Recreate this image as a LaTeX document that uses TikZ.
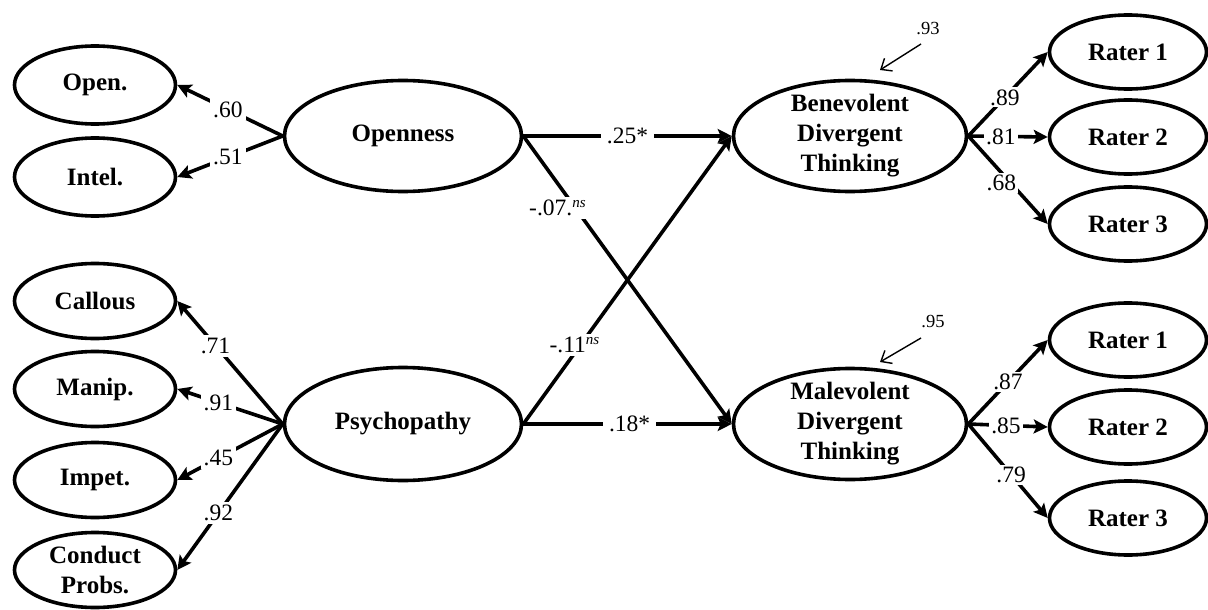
\documentclass[tikz,border=0pt]{standalone}
\usepackage{fontspec}
\setmainfont{Liberation Serif}
\usetikzlibrary{shapes.geometric,arrows.meta,calc}
\newcommand\nodefnt{\fontsize{25}{30}\selectfont\bfseries}
\newcommand\lblfnt{\fontsize{23.5}{26}\selectfont}
\newcommand\resfnt{\fontsize{18.5}{20}\selectfont}
\newcommand\nsup{\raisebox{8pt}{\fontsize{15}{15}\selectfont\itshape ns}}
\begin{document}
\begin{tikzpicture}[x=1pt,y=-1pt,
  ell/.style={draw, line width=3.6pt, ellipse, inner sep=-8pt, font=\nodefnt, align=center},
  ind/.style={ell, minimum width=161pt, minimum height=75pt},
  lat/.style={ell, minimum width=237pt, minimum height=111pt},
  rat/.style={ell, minimum width=157pt, minimum height=74pt},
  conn/.style={line width=3.6pt, -{Stealth[length=14pt,width=14pt,inset=3pt]}},
  lbl/.style={fill=white, inner sep=3pt, font=\lblfnt},
  resid/.style={line width=1.4pt, -{Straight Barb[length=9pt,width=15pt]}},
  reslbl/.style={inner sep=0pt, font=\resfnt}
]
\useasboundingbox (0,0) rectangle (1208,610);

% indicators (left)
\node[ind, minimum height=78pt] (open) at (95,85) {Open.};
\node[ind, minimum height=78pt] (intel) at (95,177) {Intel.};
\node[ind] (callous) at (95,301) {Callous};
\node[ind] (manip) at (95,389) {Manip.};
\node[ind] (impet) at (95,480) {Impet.};
\node[ind] (conduct) at (95,570) {Conduct\\Probs.};

% latent predictors
\node[lat] (opn) at (403,136) {Openness};
\node[lat, minimum height=113pt] (psy) at (403,424) {Psychopathy};

% outcomes
\node[lat, minimum width=233pt] (ben) at (850,136) {Benevolent\\Divergent\\Thinking};
\node[lat, minimum width=233pt] (mal) at (850,424) {Malevolent\\Divergent\\Thinking};

% raters
\node[rat] (b1) at (1128,52) {Rater 1};
\node[rat] (b2) at (1128,137) {Rater 2};
\node[rat] (b3) at (1128,224) {Rater 3};
\node[rat] (m1) at (1128,340) {Rater 1};
\node[rat] (m2) at (1128,427) {Rater 2};
\node[rat] (m3) at (1128,518) {Rater 3};

% loadings left
\draw[conn] (opn.west) -- node[lbl,pos=0.52]{.60} (open.east);
\draw[conn] (opn.west) -- node[lbl,pos=0.52]{.51} (intel.east);
\draw[conn] (psy.west) -- node[lbl,pos=0.6,xshift=-4pt,yshift=4pt]{.71} (callous.east);
\draw[conn] (psy.west) -- node[lbl,pos=0.61]{.91} (manip.east);
\draw[conn] (psy.west) -- node[lbl,pos=0.61]{.45} (impet.east);
\draw[conn] (psy.west) -- node[lbl,pos=0.61]{.92} (conduct.east);

% structural paths
\draw[conn] (opn.east) -- node[lbl,pos=0.5,inner xsep=6pt]{.25*} (ben.west);
\draw[conn] (opn.east) -- node[lbl,pos=0.25,xshift=-18pt]{-.07.\nsup} (mal.west);
\draw[conn] (psy.east) -- node[lbl,pos=0.274,xshift=-6pt]{-.11\nsup} (ben.west);
\draw[conn] (psy.east) -- node[lbl,pos=0.51,inner xsep=6pt]{.18*} (mal.west);

% loadings right
\draw[conn] (ben.east) -- node[lbl,pos=0.46,inner sep=2pt]{.89} (b1.west);
\draw[conn] (ben.east) -- node[lbl,pos=0.41,inner sep=2pt]{.81} (b2.west);
\draw[conn] (ben.east) -- node[lbl,pos=0.53,xshift=-9pt,inner sep=2pt]{.68} (b3.west);
\draw[conn] (mal.east) -- node[lbl,pos=0.5,inner sep=2pt]{.87} (m1.west);
\draw[conn] (mal.east) -- node[lbl,pos=0.475,inner sep=2pt]{.85} (m2.west);
\draw[conn] (mal.east) -- node[lbl,pos=0.54,inner sep=2pt]{.79} (m3.west);

% residuals
\node[reslbl] (e1) at (928,29) {.93};
\node[reslbl] (e2) at (933,322) {.95};
\coordinate (e1s) at (921,44);
\coordinate (e1t) at (880,70);
\coordinate (e2s) at (921,338);
\coordinate (e2t) at (880,362);
\draw[resid] (e1s) -- (e1t);
\draw[resid] (e2s) -- (e2t);
\end{tikzpicture}
\end{document}
